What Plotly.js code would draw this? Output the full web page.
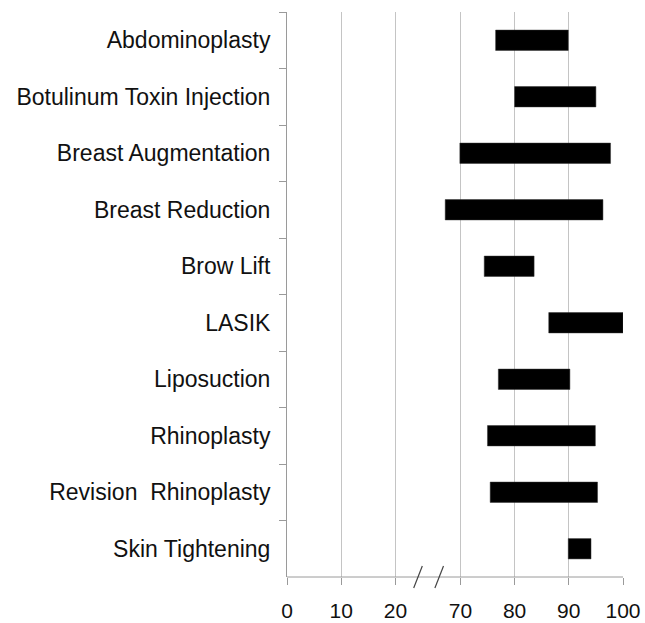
<!DOCTYPE html>
<html>
<head>
<meta charset="utf-8">
<script src="https://cdn.plot.ly/plotly-3.0.1.min.js"></script>
<style>
html, body { margin: 0; padding: 0; background: #fff; }
#chart { width: 645px; height: 623px; }
</style>
</head>
<body>
<div id="chart"></div>
<script>
var categories = [
  "Abdominoplasty",
  "Botulinum Toxin Injection",
  "Breast Augmentation",
  "Breast Reduction",
  "Brow Lift",
  "LASIK",
  "Liposuction",
  "Rhinoplasty",
  "Revision\u00A0 Rhinoplasty",
  "Skin Tightening"
];
var lowValues  = [76.5, 80.0, 69.9, 67.2, 74.4, 86.3, 77.0, 75.0, 75.5, 89.9];
var highValues = [89.9, 95.0, 97.7, 96.3, 83.6, 100.0, 90.2, 94.9, 95.3, 94.1];
var lowTickVals = [0, 10, 20];
var highTickVals = [70, 80, 90, 100];

var spans = highValues.map(function (h, i) { return h - lowValues[i]; });

var FONT = "Liberation Sans, Arial, sans-serif";
var gridCol = "#c4c4c4";
var axisCol = "#9a9a9a";
var textCol = "#111111";

var bars = {
  type: "bar",
  orientation: "h",
  y: categories,
  x: spans,
  base: lowValues,
  xaxis: "x2",
  yaxis: "y",
  width: 0.36,
  marker: { color: "#000000", line: { color: "#333333", width: 0.5 } },
  hoverinfo: "skip"
};

/* empty trace so the left (0-20) axis segment is kept as a subplot */
var leftSegment = {
  type: "scatter",
  mode: "markers",
  x: [],
  y: [],
  xaxis: "x",
  yaxis: "y",
  showlegend: false,
  hoverinfo: "skip"
};

var layout = {
  width: 645,
  height: 623,
  margin: { l: 287, r: 22, t: 12, b: 46 },
  paper_bgcolor: "#ffffff",
  plot_bgcolor: "#ffffff",
  showlegend: false,
  font: { family: FONT, size: 22, color: textCol },
  xaxis: {
    domain: [0, 0.3872],
    range: [0, 24],
    tickvals: lowTickVals,
    ticktext: lowTickVals.map(String),
    showgrid: true,
    gridcolor: gridCol,
    gridwidth: 1,
    zeroline: false,
    showline: false,
    ticks: "outside",
    ticklen: 7,
    tickcolor: axisCol,
    ticklabelstandoff: 8,
    tickfont: { family: FONT, size: 21, color: textCol },
    anchor: "y",
    fixedrange: true
  },
  xaxis2: {
    domain: [0.4515, 1],
    range: [66, 100],
    tickvals: highTickVals,
    ticktext: highTickVals.map(String),
    showgrid: true,
    gridcolor: gridCol,
    gridwidth: 1,
    zeroline: false,
    showline: false,
    ticks: "outside",
    ticklen: 7,
    tickcolor: axisCol,
    ticklabelstandoff: 8,
    tickfont: { family: FONT, size: 21, color: textCol },
    anchor: "y",
    fixedrange: true
  },
  yaxis: {
    type: "category",
    categoryorder: "array",
    categoryarray: categories,
    autorange: "reversed",
    tickson: "boundaries",
    ticks: "outside",
    ticklen: 7,
    tickcolor: axisCol,
    showline: true,
    linecolor: axisCol,
    linewidth: 1,
    showgrid: false,
    zeroline: false,
    ticklabelstandoff: 11,
    tickfont: { family: FONT, size: 23, color: textCol },
    anchor: "x",
    fixedrange: true
  },
  shapes: [
    { type: "line", xref: "paper", yref: "paper", x0: 0, x1: 1, y0: 0, y1: 0,
      line: { color: axisCol, width: 1 } },
    { type: "line", xref: "paper", yref: "paper", xsizemode: "pixel", ysizemode: "pixel",
      xanchor: 0.3899, yanchor: 0, x0: -4.3, x1: 4.3, y0: -11, y1: 11,
      line: { color: "#444444", width: 1.2 } },
    { type: "line", xref: "paper", yref: "paper", xsizemode: "pixel", ysizemode: "pixel",
      xanchor: 0.4530, yanchor: 0, x0: -4.3, x1: 4.3, y0: -11, y1: 11,
      line: { color: "#444444", width: 1.2 } }
  ]
};

Plotly.newPlot("chart", [bars, leftSegment], layout, { displayModeBar: false, staticPlot: true });
</script>
</body>
</html>
